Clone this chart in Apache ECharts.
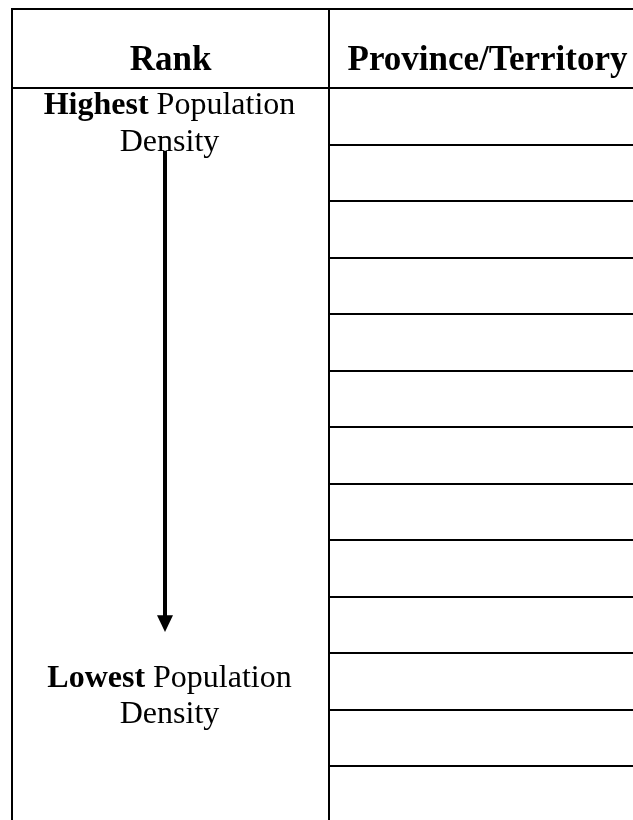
<!DOCTYPE html>
<html lang="en">
<head>
<meta charset="UTF-8">
<title>Population density ranking</title>
<style>
    html, body { margin: 0; padding: 0; background: #fff; }
    #main { width: 633px; height: 820px; }
</style>
</head>
<body>
<div id="main"></div>
<script src="https://cdn.jsdelivr.net/npm/echarts@6/dist/echarts.min.js"></script>
<script>
    // table content
    var headers = ['Rank', 'Province/Territory'];
    var provinces = ['', '', '', '', '', '', '', '', '', '', '', '', ''];  // 13 blank rows to fill in
    var rankHigh = ['Highest', 'Population', 'Density'];
    var rankLow = ['Lowest', 'Population', 'Density'];

    var HEAD = 1.4;        // header height, in body rows
    var SERIF = '"Liberation Serif", "Times New Roman", serif';

    // cells: [col, rowTop, rowBottom]  (kind/text kept alongside)
    var cells = [], meta = [];
    headers.forEach(function (h, i) {
        cells.push([i, 0, HEAD]);
        meta.push({kind: 'head', text: h});
    });
    provinces.forEach(function (p, i) {
        cells.push([1, HEAD + i, HEAD + i + 1]);
        meta.push({kind: 'body', text: p});
    });
    cells.push([0, HEAD, HEAD + provinces.length]);
    meta.push({kind: 'rank'});

    function rankText(parts) {
        return '{b|' + parts[0] + '} ' + parts[1] + '\n' + parts[2];
    }

    function renderCell(params, api) {
        var c = cells[params.dataIndex], m = meta[params.dataIndex];
        var p0 = api.coord([c[0], c[1]]).map(Math.round);
        var p1 = api.coord([c[0] + 1, c[2]]).map(Math.round);
        var w = p1[0] - p0[0], h = p1[1] - p0[1];
        var cx = p0[0] + w / 2;
        var kids = [{
            type: 'rect',
            shape: {x: p0[0], y: p0[1], width: w, height: h},
            style: {fill: null, stroke: '#000', lineWidth: 2}
        }];
        if (m.kind === 'head') {
            kids.push({
                type: 'text',
                style: {
                    text: m.text, x: cx, y: p0[1] + h * 0.66,
                    align: 'center', verticalAlign: 'middle',
                    font: 'bold 35px ' + SERIF, fill: '#000'
                }
            });
        } else if (m.kind === 'body' && m.text) {
            kids.push({
                type: 'text',
                style: {text: m.text, x: p0[0] + 8, y: p0[1] + h / 2, verticalAlign: 'middle', font: '24px ' + SERIF}
            });
        } else if (m.kind === 'rank') {
            var row = api.size([0, 1])[1];
            var rich = {b: {fontWeight: 'bold', fontSize: 32, fontFamily: SERIF, lineHeight: 36.5}};
            [[rankHigh, 0.64], [rankLow, 10.77]].forEach(function (lab) {
                kids.push({
                    type: 'text',
                    style: {
                        text: rankText(lab[0]), x: cx - 1, y: p0[1] + row * lab[1],
                        align: 'center', verticalAlign: 'middle',
                        fontSize: 32, fontFamily: SERIF, lineHeight: 36.5, fill: '#000', rich: rich
                    }
                });
            });
            // arrow from highest to lowest
            var ax = Math.round(cx - 5.5);
            var yTop = p0[1] + row * 1.11, yHead = p0[1] + row * 9.33, yTip = p0[1] + row * 9.63;
            kids.push({
                type: 'rect',
                shape: {x: ax - 2, y: yTop, width: 4, height: yHead - yTop + 1},
                style: {fill: '#000'}
            });
            kids.push({
                type: 'polygon',
                shape: {points: [[ax - 8, yHead], [ax + 8, yHead], [ax, yTip]]},
                style: {fill: '#000'}
            });
        }
        return {type: 'group', children: kids};
    }

    // grid spans the visible page; the right column and last row run past its edges
    var myChart = echarts.init(document.getElementById('main'));
    myChart.setOption({
        backgroundColor: '#fff',
        animation: false,
        grid: {left: 12, top: 9, right: 0, bottom: 0},
        xAxis: {type: 'value', min: 0, max: 621 / 317, show: false},
        yAxis: {type: 'value', min: 0, max: 811 / 56.5, inverse: true, show: false},
        series: [{
            type: 'custom',
            renderItem: renderCell,
            clip: false,
            encode: {x: 0, y: [1, 2]},
            data: cells
        }]
    });
</script>
</body>
</html>
